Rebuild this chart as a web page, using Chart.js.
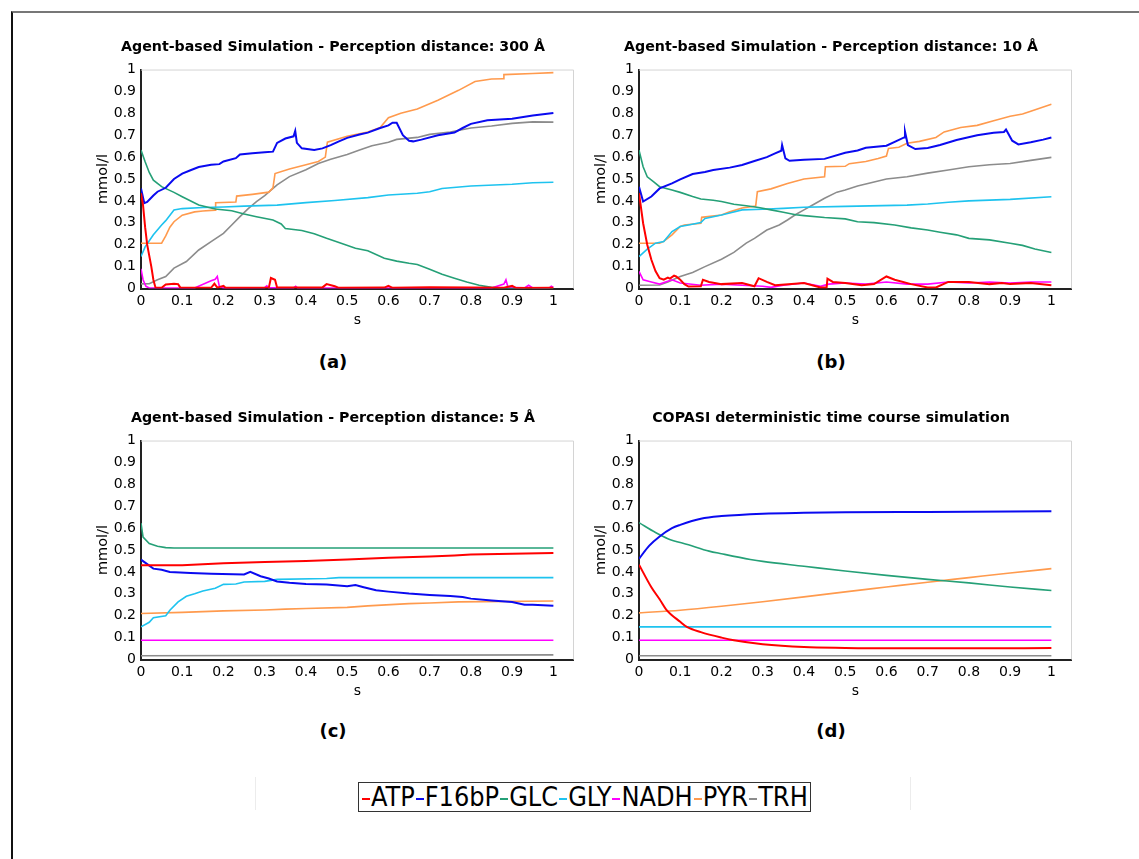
<!DOCTYPE html>
<html lang="en">
  <head>
    <meta charset="UTF-8" />
    <title>Agent-based vs COPASI simulation</title>
    <script src="https://cdn.jsdelivr.net/npm/chart.js"></script>
    <style>
      body { margin: 0; background: #fff; width: 1139px; height: 859px; overflow: hidden; position: relative; }
      .frame { position: absolute; left: 11px; top: 11px; width: 1140px; height: 860px;
               border-top: 2px solid #777; border-left: 2px solid #111; }
      canvas { position: absolute; }
      .tag { position: absolute; width: 60px; margin-left: -30px; text-align: center;
             font: bold 18px "DejaVu Sans", sans-serif; line-height: 22px; margin-top: -11px; }
      .sep { position: absolute; top: 777px; height: 33px; width: 1px; background: #ececec; }
      #legend { position: absolute; left: 358px; top: 782px; height: 28px; border: 1px solid #333;
                white-space: nowrap; font-family: "Liberation Sans Narrow", "DejaVu Sans Condensed", sans-serif;
                font-size: 26px; line-height: 28px; padding: 0 2px; }
      #legend .mk { display: inline-block; width: 8px; height: 2px; vertical-align: middle; margin: 0 1px; }
    </style>
  </head>
  <body>
    <div class="frame"></div>

    <canvas id="chartA" width="482" height="300" style="left: 92px; top: 30px"></canvas>
    <canvas id="chartB" width="482" height="300" style="left: 590px; top: 30px"></canvas>
    <canvas id="chartC" width="482" height="300" style="left: 92px; top: 401px"></canvas>
    <canvas id="chartD" width="482" height="300" style="left: 590px; top: 401px"></canvas>

    <div class="tag" style="left: 333px; top: 362px">(a)</div>
    <div class="tag" style="left: 831px; top: 362px">(b)</div>
    <div class="tag" style="left: 333px; top: 731px">(c)</div>
    <div class="tag" style="left: 831px; top: 731px">(d)</div>

    <div class="sep" style="left: 255px"></div>
    <div class="sep" style="left: 910px"></div>
    <div id="legend"></div>

    <script>
      // species shown in every panel, in legend order
      const species = ["ATP", "F16bP", "GLC", "GLY", "NADH", "PYR", "TRH"];
      const colors = ["#ff0000", "#0a0af0", "#25a077", "#1ec3ef", "#ff00ff", "#ff9a4d", "#8c8c8c"];
      const tickValues = [0, 0.1, 0.2, 0.3, 0.4, 0.5, 0.6, 0.7, 0.8, 0.9, 1];

      const titles = [
        "Agent-based Simulation - Perception distance: 300 Å",
        "Agent-based Simulation - Perception distance: 10 Å",
        "Agent-based Simulation - Perception distance: 5 Å",
        "COPASI deterministic time course simulation",
      ];

      // (a) perception distance 300 Å  -- [time s, mmol/l]
      const a_ATP = [[0,0.435],[0.005,0.38],[0.01,0.28],[0.015,0.2],[0.02,0.15],[0.025,0.1],[0.03,0.04],[0.035,0.005],[0.05,0.003],[0.06,0.018],[0.08,0.022],[0.09,0.02],[0.095,0.005],[0.17,0.003],[0.178,0.022],[0.185,0.004],[0.2,0.012],[0.205,0.003],[0.31,0.004],[0.315,0.048],[0.325,0.04],[0.33,0.005],[0.44,0.005],[0.45,0.02],[0.47,0.01],[0.48,0.003],[0.59,0.004],[0.6,0.012],[0.61,0.003],[0.7,0.006],[0.8,0.004],[0.88,0.003],[0.9,0.012],[0.91,0.002],[1,0.003]];
      const a_F16bP = [[0,0.457],[0.008,0.39],[0.015,0.395],[0.03,0.425],[0.04,0.442],[0.06,0.46],[0.08,0.5],[0.1,0.525],[0.12,0.54],[0.14,0.555],[0.17,0.565],[0.19,0.568],[0.2,0.58],[0.23,0.595],[0.24,0.612],[0.27,0.618],[0.3,0.622],[0.32,0.625],[0.33,0.665],[0.35,0.685],[0.37,0.695],[0.374,0.72],[0.378,0.665],[0.39,0.64],[0.42,0.633],[0.44,0.64],[0.46,0.655],[0.48,0.672],[0.5,0.688],[0.53,0.703],[0.55,0.712],[0.58,0.733],[0.6,0.745],[0.61,0.757],[0.62,0.757],[0.635,0.7],[0.65,0.675],[0.66,0.672],[0.68,0.68],[0.72,0.7],[0.76,0.712],[0.78,0.733],[0.8,0.752],[0.84,0.768],[0.9,0.775],[0.95,0.79],[1,0.802]];
      const a_GLC = [[0,0.632],[0.01,0.579],[0.02,0.53],[0.03,0.495],[0.05,0.465],[0.08,0.439],[0.1,0.419],[0.14,0.381],[0.18,0.363],[0.22,0.355],[0.25,0.34],[0.28,0.328],[0.32,0.313],[0.34,0.295],[0.35,0.274],[0.39,0.265],[0.42,0.25],[0.45,0.229],[0.48,0.21],[0.52,0.184],[0.55,0.172],[0.59,0.138],[0.62,0.125],[0.65,0.115],[0.67,0.11],[0.7,0.088],[0.73,0.065],[0.76,0.047],[0.79,0.03],[0.82,0.015],[0.85,0.005],[0.88,0],[1,0]];
      const a_GLY = [[0,0.146],[0.01,0.19],[0.03,0.245],[0.05,0.29],[0.06,0.31],[0.08,0.359],[0.1,0.365],[0.15,0.37],[0.2,0.372],[0.25,0.376],[0.33,0.381],[0.4,0.392],[0.47,0.402],[0.55,0.415],[0.6,0.427],[0.67,0.435],[0.7,0.442],[0.73,0.457],[0.8,0.468],[0.9,0.476],[0.95,0.483],[1,0.485]];
      const a_NADH = [[0,0.09],[0.005,0.04],[0.012,0.01],[0.02,0.002],[0.13,0.002],[0.17,0.035],[0.18,0.042],[0.185,0.055],[0.19,0.01],[0.2,0.003],[0.3,0.004],[0.305,0.012],[0.31,0.003],[0.37,0.003],[0.375,0.01],[0.38,0.002],[0.85,0.002],[0.88,0.02],[0.885,0.04],[0.89,0.005],[0.93,0.003],[0.94,0.015],[0.95,0.003],[0.99,0.003],[0.995,0.01],[1,0.005]];
      const a_PYR = [[0,0.207],[0.05,0.207],[0.06,0.24],[0.07,0.28],[0.08,0.305],[0.1,0.335],[0.13,0.35],[0.15,0.354],[0.18,0.358],[0.181,0.392],[0.23,0.395],[0.232,0.422],[0.27,0.43],[0.31,0.44],[0.32,0.46],[0.325,0.525],[0.36,0.546],[0.4,0.565],[0.43,0.58],[0.447,0.6],[0.452,0.668],[0.5,0.695],[0.55,0.715],[0.58,0.735],[0.6,0.78],[0.63,0.8],[0.67,0.82],[0.72,0.86],[0.77,0.905],[0.81,0.945],[0.85,0.957],[0.878,0.958],[0.88,0.977],[0.95,0.982],[1,0.986]];
      const a_TRH = [[0,0.021],[0.02,0.022],[0.04,0.04],[0.06,0.055],[0.08,0.093],[0.11,0.123],[0.14,0.176],[0.17,0.214],[0.2,0.252],[0.22,0.29],[0.24,0.328],[0.26,0.365],[0.28,0.397],[0.3,0.424],[0.33,0.473],[0.36,0.511],[0.4,0.542],[0.43,0.571],[0.46,0.59],[0.5,0.612],[0.53,0.632],[0.56,0.652],[0.6,0.668],[0.62,0.681],[0.67,0.69],[0.7,0.704],[0.75,0.715],[0.8,0.733],[0.85,0.742],[0.9,0.754],[0.95,0.761],[1,0.76]];

      // (b) perception distance 10 Å
      const b_ATP = [[0,0.435],[0.01,0.298],[0.02,0.2],[0.03,0.131],[0.04,0.08],[0.05,0.047],[0.06,0.04],[0.07,0.05],[0.075,0.045],[0.085,0.059],[0.09,0.055],[0.1,0.04],[0.11,0.02],[0.12,0.009],[0.15,0.01],[0.155,0.04],[0.17,0.03],[0.2,0.02],[0.25,0.025],[0.28,0.01],[0.29,0.047],[0.31,0.03],[0.33,0.015],[0.37,0.02],[0.4,0.025],[0.44,0.005],[0.455,0.005],[0.457,0.045],[0.47,0.03],[0.5,0.025],[0.54,0.015],[0.57,0.02],[0.6,0.055],[0.62,0.04],[0.66,0.02],[0.7,0.005],[0.72,0.005],[0.75,0.03],[0.8,0.03],[0.85,0.02],[0.88,0.025],[0.9,0.02],[0.95,0.025],[1,0.015]];
      const b_F16bP = [[0,0.465],[0.01,0.397],[0.03,0.42],[0.05,0.457],[0.08,0.48],[0.1,0.498],[0.13,0.523],[0.16,0.532],[0.18,0.541],[0.22,0.552],[0.25,0.564],[0.28,0.582],[0.31,0.6],[0.33,0.617],[0.345,0.629],[0.347,0.655],[0.355,0.594],[0.365,0.583],[0.4,0.588],[0.45,0.592],[0.5,0.62],[0.53,0.63],[0.55,0.643],[0.6,0.652],[0.62,0.67],[0.643,0.69],[0.645,0.716],[0.652,0.655],[0.67,0.637],[0.7,0.642],[0.73,0.655],[0.77,0.678],[0.82,0.7],[0.86,0.711],[0.885,0.715],[0.89,0.726],[0.905,0.675],[0.92,0.658],[0.95,0.668],[0.98,0.68],[1,0.69]];
      const b_GLC = [[0,0.632],[0.01,0.556],[0.02,0.51],[0.035,0.488],[0.05,0.465],[0.08,0.45],[0.1,0.439],[0.13,0.42],[0.15,0.409],[0.18,0.403],[0.2,0.397],[0.23,0.385],[0.26,0.378],[0.29,0.37],[0.32,0.359],[0.35,0.348],[0.38,0.337],[0.4,0.333],[0.45,0.324],[0.5,0.318],[0.53,0.305],[0.57,0.301],[0.62,0.29],[0.66,0.277],[0.7,0.267],[0.73,0.257],[0.77,0.245],[0.8,0.229],[0.85,0.222],[0.9,0.207],[0.93,0.197],[0.96,0.18],[1,0.164]];
      const b_GLY = [[0,0.146],[0.02,0.18],[0.04,0.207],[0.06,0.215],[0.08,0.26],[0.1,0.283],[0.12,0.29],[0.15,0.301],[0.16,0.32],[0.2,0.336],[0.22,0.345],[0.25,0.359],[0.3,0.362],[0.35,0.366],[0.4,0.371],[0.5,0.375],[0.65,0.381],[0.7,0.386],[0.75,0.394],[0.8,0.4],[0.9,0.407],[1,0.419]];
      const b_NADH = [[0,0.078],[0.01,0.04],[0.03,0.03],[0.05,0.02],[0.08,0.04],[0.1,0.025],[0.15,0.015],[0.2,0.02],[0.25,0.015],[0.3,0.01],[0.32,0.005],[0.35,0.015],[0.4,0.025],[0.44,0.01],[0.46,0.02],[0.5,0.025],[0.55,0.02],[0.6,0.03],[0.65,0.02],[0.7,0.02],[0.75,0.03],[0.8,0.025],[0.85,0.03],[0.9,0.025],[0.95,0.03],[1,0.03]];
      const b_PYR = [[0,0.207],[0.05,0.207],[0.06,0.215],[0.08,0.245],[0.1,0.283],[0.11,0.29],[0.15,0.298],[0.152,0.325],[0.2,0.336],[0.22,0.35],[0.25,0.368],[0.283,0.377],[0.287,0.442],[0.32,0.455],[0.36,0.48],[0.4,0.5],[0.45,0.51],[0.452,0.556],[0.5,0.558],[0.51,0.57],[0.55,0.58],[0.58,0.594],[0.6,0.605],[0.605,0.64],[0.63,0.645],[0.65,0.663],[0.68,0.672],[0.72,0.69],[0.74,0.715],[0.78,0.735],[0.82,0.745],[0.86,0.766],[0.9,0.787],[0.93,0.797],[0.95,0.81],[1,0.842]];
      const b_TRH = [[0,0.015],[0.05,0.016],[0.07,0.03],[0.1,0.055],[0.13,0.073],[0.16,0.1],[0.2,0.134],[0.23,0.165],[0.26,0.207],[0.28,0.229],[0.31,0.267],[0.34,0.29],[0.36,0.313],[0.38,0.338],[0.4,0.359],[0.42,0.38],[0.45,0.412],[0.48,0.44],[0.5,0.45],[0.53,0.468],[0.55,0.477],[0.6,0.5],[0.65,0.51],[0.7,0.527],[0.75,0.541],[0.8,0.556],[0.85,0.565],[0.9,0.571],[0.95,0.585],[1,0.599]];

      // (c) perception distance 5 Å
      const c_ATP = [[0,0.43],[0.1,0.43],[0.15,0.435],[0.2,0.44],[0.3,0.445],[0.4,0.45],[0.5,0.457],[0.6,0.465],[0.7,0.47],[0.76,0.475],[0.8,0.48],[0.9,0.483],[1,0.486]];
      const c_F16bP = [[0,0.456],[0.03,0.415],[0.05,0.41],[0.07,0.4],[0.12,0.395],[0.17,0.392],[0.25,0.388],[0.265,0.4],[0.29,0.38],[0.31,0.37],[0.33,0.356],[0.36,0.35],[0.4,0.345],[0.45,0.342],[0.5,0.335],[0.52,0.34],[0.54,0.33],[0.57,0.316],[0.6,0.31],[0.65,0.301],[0.7,0.295],[0.75,0.29],[0.78,0.285],[0.8,0.278],[0.85,0.27],[0.9,0.263],[0.93,0.25],[0.95,0.25],[1,0.245]];
      const c_GLC = [[0,0.623],[0.005,0.559],[0.02,0.53],[0.04,0.517],[0.06,0.511],[0.08,0.509],[1,0.509]];
      const c_GLY = [[0,0.149],[0.02,0.17],[0.03,0.191],[0.06,0.2],[0.07,0.225],[0.09,0.263],[0.11,0.289],[0.13,0.3],[0.15,0.313],[0.18,0.325],[0.2,0.343],[0.23,0.345],[0.25,0.354],[0.3,0.357],[0.33,0.366],[0.45,0.37],[0.48,0.374],[1,0.374]];
      const c_NADH = [[0,0.088],[1,0.088]];
      const c_PYR = [[0,0.21],[0.1,0.215],[0.2,0.222],[0.3,0.226],[0.35,0.23],[0.4,0.233],[0.5,0.238],[0.55,0.245],[0.65,0.255],[0.7,0.258],[0.77,0.263],[1,0.267]];
      const c_TRH = [[0,0.017],[1,0.021]];

      // (d) COPASI deterministic
      const d_ATP = [[0,0.433],[0.03,0.33],[0.05,0.275],[0.066,0.228],[0.1,0.172],[0.116,0.149],[0.15,0.125],[0.2,0.1],[0.23,0.088],[0.3,0.07],[0.4,0.057],[0.5,0.053],[0.6,0.051],[0.8,0.051],[1,0.052]];
      const d_F16bP = [[0,0.46],[0.025,0.52],[0.05,0.562],[0.08,0.6],[0.1,0.615],[0.15,0.643],[0.2,0.655],[0.3,0.666],[0.4,0.67],[0.5,0.672],[0.7,0.674],[1,0.677]];
      const d_GLC = [[0,0.625],[0.04,0.58],[0.07,0.552],[0.12,0.524],[0.17,0.495],[0.2,0.483],[0.27,0.457],[0.3,0.448],[0.4,0.426],[0.5,0.404],[0.6,0.384],[0.7,0.366],[0.8,0.35],[0.9,0.331],[1,0.315]];
      const d_GLY = [[0,0.149],[1,0.149]];
      const d_NADH = [[0,0.088],[1,0.088]];
      const d_PYR = [[0,0.213],[0.1,0.225],[0.2,0.243],[0.3,0.264],[0.4,0.286],[0.5,0.309],[0.6,0.331],[0.7,0.353],[0.8,0.374],[0.9,0.395],[1,0.415]];
      const d_TRH = [[0,0.017],[1,0.017]];

      const panels = [
        [a_ATP, a_F16bP, a_GLC, a_GLY, a_NADH, a_PYR, a_TRH],
        [b_ATP, b_F16bP, b_GLC, b_GLY, b_NADH, b_PYR, b_TRH],
        [c_ATP, c_F16bP, c_GLC, c_GLY, c_NADH, c_PYR, c_TRH],
        [d_ATP, d_F16bP, d_GLC, d_GLY, d_NADH, d_PYR, d_TRH],
      ];

      const fmt = (v) => String(Math.round(v * 10) / 10);
      const tickFont = { family: "DejaVu Sans", size: 14 };

      // light grey top/right edge of the plot box
      const boxEdge = {
        id: "boxEdge",
        beforeDatasetsDraw(chart) {
          const { ctx, chartArea: a } = chart;
          ctx.save();
          ctx.strokeStyle = "#d4d4d4";
          ctx.lineWidth = 1;
          ctx.beginPath();
          ctx.moveTo(a.left, a.top + 0.5);
          ctx.lineTo(a.right - 0.5, a.top + 0.5);
          ctx.lineTo(a.right - 0.5, a.bottom);
          ctx.stroke();
          ctx.restore();
        },
      };

      function makeChart(id, idx) {
        const smooth = idx === 3;
        new Chart(document.getElementById(id), {
          type: "line",
          data: {
            datasets: panels[idx].map((pts, i) => ({
              label: species[i],
              data: pts.map(([x, y]) => ({ x, y })),
              borderColor: colors[i],
              borderWidth: i < 2 ? 2 : 1.6,
              pointRadius: 0,
              fill: false,
              tension: smooth ? 0.4 : 0,
              cubicInterpolationMode: smooth ? "monotone" : "default",
            })),
          },
          options: {
            responsive: false,
            animation: false,
            events: [],
            layout: { padding: 0 },
            plugins: {
              legend: { display: false },
              tooltip: { enabled: false },
              title: {
                display: true,
                text: titles[idx],
                color: "#000",
                font: { family: "DejaVu Sans", size: 14.2, weight: "bold" },
                padding: { top: 8.8, bottom: 13.7 },
              },
            },
            scales: {
              x: {
                type: "linear",
                min: 0,
                max: 1.05,
                afterBuildTicks: (s) => { s.ticks = tickValues.map((v) => ({ value: v })); },
                afterFit: (s) => { s.height = 41.5; },
                grid: { display: false, drawTicks: false },
                border: { color: "#222", width: 2 },
                ticks: { padding: 4, color: "#000", font: tickFont, maxRotation: 0, autoSkip: false, callback: fmt },
                title: { display: true, text: "s", color: "#000", font: tickFont, padding: { top: 0, bottom: 1.6 } },
              },
              y: {
                type: "linear",
                min: 0,
                max: 1,
                afterBuildTicks: (s) => { s.ticks = tickValues.map((v) => ({ value: v })); },
                afterFit: (s) => { s.width = 49; },
                grid: { display: false, drawTicks: false },
                border: { color: "#222", width: 2 },
                ticks: { padding: 5, color: "#000", font: tickFont, autoSkip: false, callback: fmt },
                title: { display: true, text: "mmol/l", color: "#000", font: { family: "DejaVu Sans", size: 14.5 }, padding: { top: 2.9, bottom: 0 } },
              },
            },
          },
          plugins: [boxEdge],
        });
      }

      makeChart("chartA", 0);
      makeChart("chartB", 1);
      makeChart("chartC", 2);
      makeChart("chartD", 3);

      // shared legend, sized to span the same width as in the figure
      const legend = document.getElementById("legend");
      species.forEach((name, i) => {
        const mk = document.createElement("span");
        mk.className = "mk";
        mk.style.background = colors[i];
        legend.appendChild(mk);
        legend.appendChild(document.createTextNode(name));
      });
      const want = 454;
      const got = legend.offsetWidth;
      legend.style.fontSize = (26 * (want - 30) / (got - 30)).toFixed(2) + "px";
    </script>
  </body>
</html>
